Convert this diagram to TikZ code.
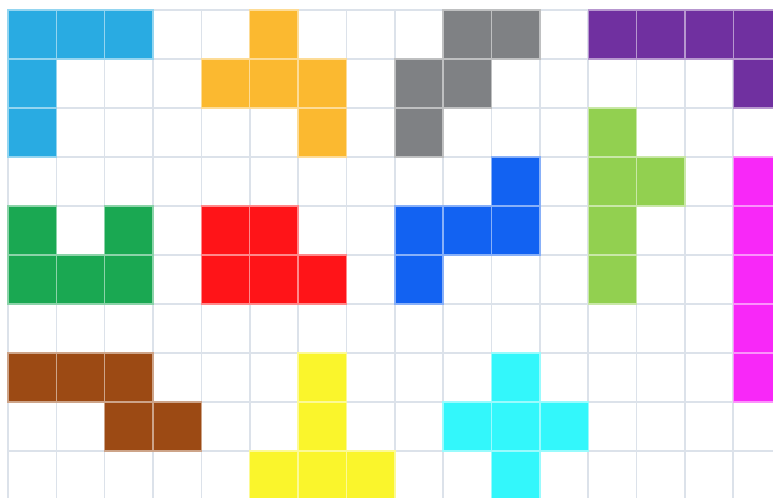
\documentclass[tikz,border=0pt]{standalone}
\usepackage{xcolor}

\definecolor{gridgray}{HTML}{DCE2EA}
\definecolor{skyblue}{HTML}{29ABE2}
\definecolor{amber}{HTML}{FBB930}
\definecolor{stone}{HTML}{7F8184}
\definecolor{plum}{HTML}{7030A0}
\definecolor{lime}{HTML}{92D050}
\definecolor{pink}{HTML}{F828F8}
\definecolor{leaf}{HTML}{1AA852}
\definecolor{scarlet}{HTML}{FF1418}
\definecolor{royal}{HTML}{1262F2}
\definecolor{rust}{HTML}{9C4A14}
\definecolor{lemon}{HTML}{FAF52C}
\definecolor{aqua}{HTML}{33F7FB}

\begin{document}
\begin{tikzpicture}[
  x=0.4835cm, y=-0.49cm,
  gridline/.style={draw=gridgray, line width=0.45pt},
  cell/.style={fill=#1, draw=white!50!#1, line width=0.4pt},
]
\clip (-0.1655,-0.204) rectangle (15.822,9.959);
\fill[white] (-0.1655,-0.204) rectangle (15.822,9.959);

% board
\foreach \c in {0,...,16} \draw[gridline] (\c,0) -- (\c,10);
\foreach \r in {0,...,10} \draw[gridline] (0,\r) -- (16,\r);

% pieces, one cell at a time (column/row)
\foreach \c/\r in {0/0,1/0,2/0,0/1,0/2}
  \filldraw[cell=skyblue] (\c,\r) rectangle ++(1,1);
\foreach \c/\r in {5/0,4/1,5/1,6/1,6/2}
  \filldraw[cell=amber] (\c,\r) rectangle ++(1,1);
\foreach \c/\r in {9/0,10/0,8/1,9/1,8/2}
  \filldraw[cell=stone] (\c,\r) rectangle ++(1,1);
\foreach \c/\r in {12/0,13/0,14/0,15/0,15/1}
  \filldraw[cell=plum] (\c,\r) rectangle ++(1,1);
\foreach \c/\r in {12/2,12/3,13/3,12/4,12/5}
  \filldraw[cell=lime] (\c,\r) rectangle ++(1,1);
\foreach \c/\r in {15/3,15/4,15/5,15/6,15/7}
  \filldraw[cell=pink] (\c,\r) rectangle ++(1,1);
\foreach \c/\r in {0/4,2/4,0/5,1/5,2/5}
  \filldraw[cell=leaf] (\c,\r) rectangle ++(1,1);
\foreach \c/\r in {4/4,5/4,4/5,5/5,6/5}
  \filldraw[cell=scarlet] (\c,\r) rectangle ++(1,1);
\foreach \c/\r in {10/3,8/4,9/4,10/4,8/5}
  \filldraw[cell=royal] (\c,\r) rectangle ++(1,1);
\foreach \c/\r in {0/7,1/7,2/7,2/8,3/8}
  \filldraw[cell=rust] (\c,\r) rectangle ++(1,1);
\foreach \c/\r in {6/7,6/8,5/9,6/9,7/9}
  \filldraw[cell=lemon] (\c,\r) rectangle ++(1,1);
\foreach \c/\r in {10/7,9/8,10/8,11/8,10/9}
  \filldraw[cell=aqua] (\c,\r) rectangle ++(1,1);
\end{tikzpicture}
\end{document}
